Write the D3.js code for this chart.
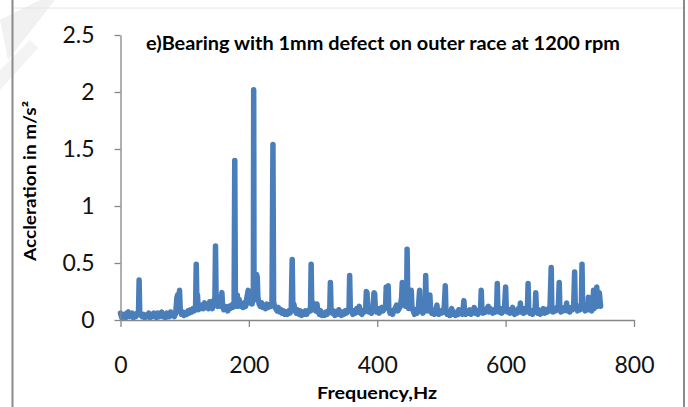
<!DOCTYPE html>
<html>
<head>
<meta charset="utf-8">
<script src="https://cdn.jsdelivr.net/npm/d3@7"></script>
<style>
  html, body { margin: 0; padding: 0; background: #fff; }
  svg { display: block; }
</style>
</head>
<body>
<svg id="chart" width="688" height="407"></svg>
<script>
// ---- data ----
const chartTitle = "e)Bearing with 1mm defect on outer race at 1200 rpm";
const xTitle = "Frequency,Hz";
const yTitle = "Accleration in m/s²";
const xTicks = [0, 200, 400, 600, 800];
const yTicks = [0, 0.5, 1, 1.5, 2, 2.5];

const freq = [
  0,2,4,6,8,10,12,14,16,18,20,22,24,26,28,29,30,32,34,
  36,38,40,42,44,46,48,50,52,54,56,58,60,62,64,66,68,70,72,74,76,78,80,82,84,86,
  88,89,90,91,92,93,95,97,99,101,103,105,107,109,111,113,115,117,118,119,120,121,123,125,127,129,131,133,135,137,139,141,143,145,147,148,149,151,153,155,157,158,159,161,163,165,167,169,171,173,175,177,178,179,181,182,183,185,187,189,191,193,195,197,199,201,203,205,207,207.5,208,210,212,213,214,216,218,220,222,224,226,228,230,232,234,236,237.5,238.5,240,242,244,246,248,250,252,254,256,258,260,262,264,266,267.5,268.5,270,272,274,276,278,280,282,284,286,288,290,292,294,296,297,298,300,302,304,306,308,310,312,314,316,318,320,322,324,326,327,328,330,332,334,336,338,340,342,344,346,348,350,352,354,356,357,358,360,362,364,366,368,370,372,374,376,378,380,382,383,384,385,387,389,391,393,395,396,397,399,401,403,405,407,409,411,413,414,415,417,418,420,422,424,426,428,430,432,434,436,438,439,440,442,444,446,446.5,447.5,449,451,453,454,456,458,460,462,464,466,467,469,471,473,475,475.5,476.5,478,480,482,483,485,487,489,491,493,494,496,498,500,502,504,506,507,509,511,513,515,516,518,520,522,524,526,527,529,531,533,535,536,538,540,542,544,546,548,550,551,553,555,557,559,561,562,563,565,567,569,571,573,574,576,578,580,582,584,586,587,588,590,592,594,596,598,600,601,603,605,607,609,611,612,614,616,618,620,622,623,624,626,628,630,632,634,635,636,638,640,642,644,646,647,648,650,652,654,656,658,659,661,663,665,667,669,671,672,674,676,678,680,682,683.5,684.5,686,688,690,692,694,695,696,698,700,702,704,706,707.5,708.5,710,712,714,716,718,719,720,722,724,726,728,729,730,732,734,736,737,738,740,741,742,743,745,746,747,748
];
const accel = [
  .06,.02,.03,.05,.02,.06,.07,.03,.04,.06,.02,.05,.03,.06,.05,.35,.05,.04,.03,
  .05,.02,.04,.03,.06,.02,.05,.03,.06,.04,.02,.06,.03,.05,.07,.03,.05,.02,.06,.04,.03,.07,.04,.05,.03,.06,
  .2,.22,.12,.18,.26,.1,.05,.07,.04,.06,.05,.08,.06,.09,.07,.1,.08,.12,.49,.15,.22,.09,.12,.1,.13,.1,.15,.11,.13,.1,.16,.12,.1,.17,.13,.65,.16,.12,.18,.12,.2,.24,.12,.09,.12,.1,.08,.12,.1,.13,.11,.15,1.4,.18,.12,.22,.12,.18,.12,.14,.11,.15,.12,.2,.26,.15,.22,.14,.2,2.02,.25,.18,.4,.38,.2,.14,.12,.15,.11,.13,.1,.14,.11,.13,.12,.15,1.54,.16,.12,.1,.08,.11,.07,.09,.06,.08,.05,.07,.05,.08,.06,.09,.53,.1,.14,.08,.06,.09,.05,.08,.04,.07,.05,.08,.05,.07,.09,.08,.49,.1,.15,.12,.08,.14,.07,.05,.08,.04,.06,.04,.07,.05,.08,.09,.33,.1,.06,.08,.04,.07,.05,.09,.06,.04,.07,.05,.08,.06,.09,.08,.39,.1,.07,.05,.08,.06,.1,.07,.12,.06,.05,.08,.07,.1,.25,.24,.1,.07,.09,.06,.1,.24,.23,.1,.07,.1,.06,.09,.11,.08,.1,.12,.29,.12,.3,.1,.06,.08,.05,.09,.1,.13,.08,.1,.12,.2,.33,.15,.2,.12,.3,.62,.2,.1,.15,.26,.12,.08,.05,.09,.06,.1,.26,.1,.08,.06,.1,.2,.39,.12,.08,.1,.22,.09,.06,.08,.05,.09,.13,.07,.05,.08,.06,.09,.07,.3,.08,.05,.07,.04,.08,.1,.05,.07,.04,.06,.05,.09,.06,.08,.05,.17,.07,.05,.08,.06,.09,.05,.07,.08,.11,.06,.08,.05,.09,.1,.26,.1,.06,.09,.07,.1,.12,.07,.1,.08,.06,.09,.07,.1,.32,.09,.07,.1,.06,.09,.08,.29,.1,.07,.09,.06,.08,.11,.07,.05,.08,.06,.1,.08,.15,.07,.09,.06,.1,.07,.1,.32,.09,.06,.08,.05,.09,.1,.24,.08,.06,.09,.05,.08,.07,.1,.06,.09,.07,.1,.08,.46,.1,.07,.1,.08,.11,.09,.33,.1,.07,.1,.08,.11,.09,.15,.08,.1,.07,.11,.09,.12,.42,.1,.13,.08,.11,.09,.12,.49,.1,.13,.08,.12,.1,.2,.09,.12,.08,.12,.26,.1,.14,.22,.29,.12,.2,.24,.18,.12
];

// ---- drawing ----
const svg = d3.select("#chart");
const font = "Lato, 'Open Sans', sans-serif";
const axisColor = "#868686";

// page decorations: borders and faint watermark
svg.append("path").attr("d", "M0,20 L40,0 L55,0 L8,60 Z").attr("fill", "#f1f1f1");
svg.append("path").attr("d", "M0,70 L30,40 L38,48 L0,90 Z").attr("fill", "#f3f3f3");
svg.append("line").attr("x1", 14).attr("x2", 684).attr("y1", 8).attr("y2", 8)
  .attr("stroke", "#e6e6e6").attr("stroke-width", 1);
svg.append("line").attr("x1", 12.5).attr("x2", 12.5).attr("y1", 0).attr("y2", 407)
  .attr("stroke", "#8a8a8a").attr("stroke-width", 2);
svg.append("line").attr("x1", 684).attr("x2", 684).attr("y1", 0).attr("y2", 407)
  .attr("stroke", "#8a8a8a").attr("stroke-width", 2);

const x = d3.scaleLinear().domain([0, 800]).range([120.5, 634]);
const y = d3.scaleLinear().domain([0, 2.5]).range([320, 35]);

// series line
const pts = freq.map((f, i) => [f, accel[i]]);
svg.append("path")
  .datum(pts)
  .attr("fill", "none")
  .attr("stroke", "#4a7ebb")
  .attr("stroke-width", 5.5)
  .attr("stroke-linejoin", "round")
  .attr("stroke-linecap", "round")
  .attr("d", d3.line().x(d => x(d[0])).y(d => y(d[1])));

// axes
const yAxis = svg.append("g").attr("transform", "translate(120.5,0)")
  .call(d3.axisLeft(y).tickValues(yTicks).tickSize(6).tickSizeOuter(0).tickPadding(20)
    .tickFormat(d3.format("")));
const xAxis = svg.append("g").attr("transform", "translate(0,320)")
  .call(d3.axisBottom(x).tickValues(xTicks).tickSize(7).tickSizeOuter(0).tickPadding(30));
[xAxis, yAxis].forEach(g => {
  g.selectAll("path, line").attr("stroke", axisColor).attr("stroke-width", 1.3);
  g.selectAll("text").attr("font-family", font).attr("font-size", 23).attr("fill", "#111");
});

// titles
svg.append("text")
  .attr("x", 383).attr("y", 50)
  .attr("text-anchor", "middle")
  .attr("font-family", font).attr("font-weight", "bold").attr("font-size", 18)
  .attr("textLength", 474).attr("lengthAdjust", "spacingAndGlyphs")
  .text(chartTitle);

svg.append("text")
  .attr("x", 377).attr("y", 399)
  .attr("text-anchor", "middle")
  .attr("font-family", font).attr("font-weight", "bold").attr("font-size", 17)
  .attr("textLength", 120).attr("lengthAdjust", "spacingAndGlyphs")
  .text(xTitle);

svg.append("text")
  .attr("transform", "translate(36,181) rotate(-90)")
  .attr("text-anchor", "middle")
  .attr("font-family", font).attr("font-weight", "bold").attr("font-size", 17)
  .attr("textLength", 160).attr("lengthAdjust", "spacingAndGlyphs")
  .text(yTitle);
</script>
</body>
</html>
